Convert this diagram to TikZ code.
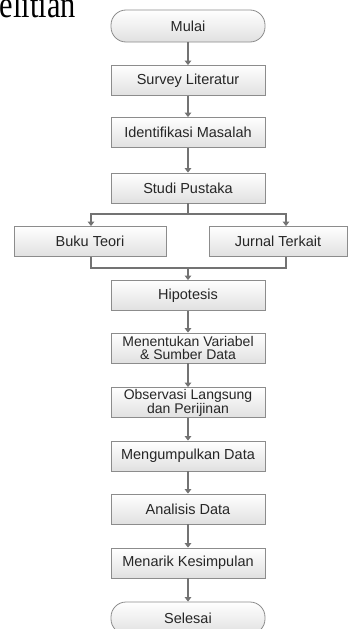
\documentclass[tikz,border=0pt]{standalone}
\usepackage{graphicx}
\usepackage{fontspec}
\setmainfont{Liberation Sans}
\newfontfamily\judulfont{Liberation Serif}
\usetikzlibrary{arrows.meta}
\usetikzlibrary{calc}

\tikzset{
    proses/.style={rectangle, draw=black!45, line width=0.8pt,
        top color=white, bottom color=black!12,
        minimum width=154pt, minimum height=30pt, inner sep=0pt,
        text=black!85, font=\fontsize{14.5}{13.5}\selectfont, align=center},
    duabaris/.style={proses, font=\fontsize{14}{12.5}\selectfont},
    terminal/.style={proses, rounded corners=15pt, minimum height=32pt},
    garis/.style={draw=black!55, line width=1.3pt},
    alur/.style={garis, -{Triangle[width=6.5pt,length=4.5pt]}}
}

\begin{document}
\begin{tikzpicture}[x=1pt,y=-1pt]
    \useasboundingbox (0,0) rectangle (352,629);

    % potongan judul
    \node[anchor=base east, inner sep=0pt, font=\judulfont\fontsize{38}{38}\selectfont] (judul) at (76,17) {\scalebox{0.8}[1]{Penelitian}};

    % Draw boxes
    \node[terminal] (mulai) at (188,26) {Mulai};
    \node[proses] (survey) at (188,80.5) {Survey Literatur};
    \node[proses] (identifikasi) at (188,132.5) {Identifikasi Masalah};
    \node[proses] (studi) at (188,188) {Studi Pustaka};
    \node[proses, minimum width=152pt] (buku) at (90,241.5) {Buku Teori};
    \node[proses, minimum width=138pt] (jurnal) at (278,241.5) {Jurnal Terkait};
    \node[proses] (hipotesis) at (188,295.5) {Hipotesis};
    \node[duabaris] (variabel) at (188,348) {Menentukan Variabel\\\& Sumber Data};
    \node[duabaris] (observasi) at (188,402.5) {Observasi Langsung\\dan Perijinan};
    \node[proses] (kumpul) at (188,456) {Mengumpulkan Data};
    \node[proses] (analisis) at (188,509) {Analisis Data};
    \node[proses] (kesimpulan) at (188,563) {Menarik Kesimpulan};
    \node[terminal] (selesai) at (188,618) {Selesai};

    \coordinate (cabang) at (188,214);
    \coordinate (gabung) at (188,268);

    % Draw arrows
    \draw[alur] (mulai) -- (survey);
    \draw[alur] (survey) -- (identifikasi);
    \draw[alur] (identifikasi) -- (studi);
    \draw[garis] (studi) -- (cabang);
    \draw[alur] (cabang) -| ([xshift=1pt]buku.north);
    \draw[alur] (cabang) -| ([xshift=8pt]jurnal.north);
    \draw[garis] ([xshift=1pt]buku.south) |- (gabung);
    \draw[garis] ([xshift=8pt]jurnal.south) |- (gabung);
    \draw[alur] (gabung) -- (hipotesis);
    \draw[alur] (hipotesis) -- (variabel);
    \draw[alur] (variabel) -- (observasi);
    \draw[alur] (observasi) -- (kumpul);
    \draw[alur] (kumpul) -- (analisis);
    \draw[alur] (analisis) -- (kesimpulan);
    \draw[alur] (kesimpulan) -- (selesai);

\end{tikzpicture}
\end{document}
